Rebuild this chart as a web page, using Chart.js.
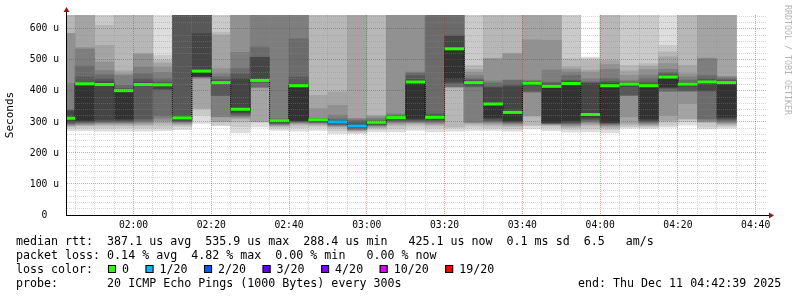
<!DOCTYPE html>
<html>
<head>
<meta charset="utf-8">
<script src="https://cdn.jsdelivr.net/npm/chart.js@4.4.0/dist/chart.umd.min.js"></script>
<style>
  html, body { margin: 0; padding: 0; background: #fff; }
  canvas { display: block; }
</style>
</head>
<body>
<canvas id="smoke" width="797" height="297"></canvas>
<script>
// start of each 5 minute column
const slots = ['01:40','01:45','01:50','01:55','02:00','02:05','02:10','02:15','02:20','02:25',
  '02:30','02:35','02:40','02:45','02:50','02:55','03:00','03:05','03:10','03:15',
  '03:20','03:25','03:30','03:35','03:40','03:45','03:50','03:55','04:00','04:05',
  '04:10','04:15','04:20','04:25','04:30'];

// median rtt per column (us)
const median = [312,423,421,401,421,420,313,464,427,341,434,304,417,307,300,287,299,314,429,315,
  536,427,358,331,425,415,424,324,417,422,417,445,422,429,427];

// lost pings out of 20 per column
const loss = [0,0,0,0,0,0,0,0,0,0,0,0,0,0,1,1,0,0,0,0,0,0,0,0,0,0,0,0,0,0,0,0,0,0,0];

// the 20 sorted ping times of each column (us), for the smoke
const pings = [
  [272,280,285,288,290,292,295,298,303,308,312,335,338,340,425,585,586,700,720,740],
  [272,280,288,290,292,295,298,300,303,306,423,425,445,480,535,540,700,720,740,760],
  [270,280,288,292,295,298,300,303,308,419,421,430,440,452,466,493,547,612,700,720],
  [270,282,288,292,295,298,300,303,306,310,401,403,408,418,450,455,465,700,720,740],
  [270,280,288,292,296,300,305,310,418,420,421,428,440,455,477,518,522,700,720,740],
  [272,280,290,298,305,312,320,405,407,419,420,422,428,440,460,477,490,499,515,700],
  [275,285,290,293,296,299,301,303,306,309,313,316,700,710,720,730,740,750,760,770],
  [295,322,342,344,440,443,445,446,447,448,464,585,700,710,720,730,740,750,760,770],
  [288,290,300,301,316,317,385,386,424,425,427,432,437,445,455,472,580,588,700,720],
  [265,285,300,310,315,318,320,325,330,335,341,440,455,472,525,700,710,720,730,740],
  [284,299,300,301,410,412,413,428,430,432,434,508,509,542,700,710,720,730,740,750],
  [273,280,285,288,290,292,294,296,298,300,304,306,308,310,700,710,720,730,740,750],
  [270,282,290,293,296,298,300,302,304,305,417,420,445,568,700,710,720,730,740,750],
  [273,283,288,292,295,297,299,300,302,304,307,309,310,311,312,343,386,700,720,740],
  [262,272,280,285,287,289,291,293,295,297,300,303,305,310,322,354,397,700,720,740],
  [262,266,270,272,274,276,278,280,282,284,287,292,298,305,310,312,700,710,720,730],
  [268,275,280,283,286,288,290,292,294,296,299,301,303,306,312,318,321,700,720,740],
  [268,278,287,292,296,299,302,305,308,310,314,316,318,322,326,700,710,720,730,740],
  [273,283,290,295,298,300,302,305,308,312,429,435,450,458,461,700,710,720,730,740],
  [268,280,287,291,295,298,302,305,308,311,315,320,326,700,710,720,730,740,750,760],
  [270,280,284,410,412,414,415,425,429,440,536,576,580,700,710,720,730,740,750,760],
  [273,283,290,295,298,300,413,415,420,425,427,430,435,440,450,461,470,483,700,720],
  [273,280,287,292,296,299,302,305,310,315,358,410,413,425,432,504,505,700,720,740],
  [270,278,285,289,292,295,298,300,302,305,331,413,420,434,436,520,522,700,720,740],
  [278,288,290,318,320,395,398,400,420,423,425,428,430,432,435,565,700,710,720,730],
  [272,282,288,291,293,294,295,296,298,300,415,420,425,429,467,563,700,710,720,730],
  [267,276,282,286,289,292,295,297,300,305,424,430,434,450,461,470,477,504,700,720],
  [268,278,287,292,296,300,303,308,312,318,324,424,426,430,440,461,467,500,505,509],
  [265,275,280,284,288,291,294,296,298,300,417,425,430,441,470,485,498,700,720,740],
  [280,285,290,295,316,385,386,387,415,418,421,424,427,430,435,451,465,483,700,720],
  [279,283,287,290,293,296,299,302,305,310,417,420,428,440,451,470,480,488,700,720],
  [283,290,300,305,321,398,400,408,411,413,445,450,455,460,470,488,510,526,547,700],
  [290,300,308,311,359,398,400,402,415,418,422,425,428,435,445,456,483,700,720,740],
  [278,284,298,300,302,306,311,400,402,424,429,432,440,450,504,506,700,710,720,730],
  [280,286,290,294,297,300,304,308,312,316,427,430,435,440,445,447,700,710,720,730]
];

const yTicks = [0, 100, 200, 300, 400, 500, 600];
const xLabels = ['02:00', '02:20', '02:40', '03:00', '03:20', '03:40', '04:00', '04:20', '04:40'];

const lossSteps = [0, 1, 2, 3, 4, 10, 19];
const lossNames = ['0', '1/20', '2/20', '3/20', '4/20', '10/20', '19/20'];
const lossColors = ['#26ff00', '#00b8ff', '#0059ff', '#5e00ff', '#7e00ff', '#dd00ff', '#ff0000'];

const legendLines = [
  'median rtt:  387.1 us avg  535.9 us max  288.4 us min   425.1 us now  0.1 ms sd  6.5   am/s',
  'packet loss: 0.14 % avg  4.82 % max  0.00 % min   0.00 % now',
  'loss color:',
  'probe:       20 ICMP Echo Pings (1000 Bytes) every 300s'
];
const endText = 'end: Thu Dec 11 04:42:39 2025';

const MONO = '"DejaVu Sans Mono", monospace';
const toMin = s => { const p = s.split(':'); return p[0] * 60 + +p[1]; };
const fmt = v => String(Math.floor(v / 60)).padStart(2, '0') + ':' + String(Math.round(v % 60)).padStart(2, '0');
const xStart = toMin('01:42') + 39 / 60;
const xEnd = toMin('04:42') + 39 / 60;
const STEP = 5;

function lossColor(n) {
  let c = lossColors[0];
  lossSteps.forEach((s, i) => { if (n >= s) c = lossColors[i]; });
  return c;
}

// smoke: band k spans ping k .. ping 21-k, darker towards the middle
const half = 10;
const datasets = [];
for (let k = 1; k <= half; k++) {
  const g = Math.floor(190 / half * (half - k)) + 50;
  datasets.push({
    type: 'bar',
    data: slots.map((s, j) => ({ x: toMin(s) + STEP / 2, y: [pings[j][k - 1], pings[j][20 - k]] })),
    backgroundColor: `rgb(${g},${g},${g})`,
    borderWidth: 0,
    grouped: false,
    barPercentage: 1,
    categoryPercentage: 1,
    clip: 0,
    order: 100 - k
  });
}

// thin dotted step line joining the medians
const edges = slots.map(toMin).concat(toMin(slots[slots.length - 1]) + STEP);
datasets.push({
  type: 'line',
  data: edges.map((x, j) => ({ x, y: median[Math.min(j, median.length - 1)] })),
  stepped: true,
  borderColor: '#000',
  borderWidth: 1,
  borderDash: [1, 1],
  pointRadius: 0,
  clip: 0,
  order: 2
});

// median bars coloured by loss
const segPts = [];
slots.forEach((s, j) => {
  const x0 = toMin(s);
  segPts.push({ x: x0, y: median[j] }, { x: x0 + STEP, y: median[j] }, { x: x0 + STEP, y: null });
});
datasets.push({
  type: 'line',
  data: segPts,
  borderWidth: 3,
  borderCapStyle: 'butt',
  borderColor: lossColors[0],
  segment: { borderColor: c => lossColor(loss[Math.floor(c.p0DataIndex / 3)]) },
  spanGaps: false,
  pointRadius: 0,
  clip: 0,
  order: 1
});

const decor = {
  id: 'decor',
  afterDraw(chart) {
    const ctx = chart.ctx;
    const a = chart.chartArea;
    ctx.save();
    // axis extensions + arrows
    ctx.strokeStyle = '#000';
    ctx.lineWidth = 1;
    ctx.beginPath();
    ctx.moveTo(a.left + 0.5, a.top);
    ctx.lineTo(a.left + 0.5, a.top - 4);
    ctx.moveTo(a.right, a.bottom + 0.5);
    ctx.lineTo(a.right + 4, a.bottom + 0.5);
    ctx.stroke();
    ctx.fillStyle = '#8b1c1c';
    ctx.beginPath();
    ctx.moveTo(a.left - 2.5, a.top - 3);
    ctx.lineTo(a.left + 3.5, a.top - 3);
    ctx.lineTo(a.left + 0.5, a.top - 8);
    ctx.closePath();
    ctx.fill();
    ctx.beginPath();
    ctx.moveTo(a.right + 3, a.bottom - 2.5);
    ctx.lineTo(a.right + 3, a.bottom + 3.5);
    ctx.lineTo(a.right + 8, a.bottom + 0.5);
    ctx.closePath();
    ctx.fill();

    // watermark
    ctx.save();
    ctx.translate(787.5, 5);
    ctx.rotate(Math.PI / 2);
    ctx.font = '8.3px ' + MONO;
    ctx.fillStyle = '#b4b4b4';
    ctx.textBaseline = 'middle';
    ctx.textAlign = 'left';
    ctx.fillText('RRDTOOL / TOBI OETIKER', 0, 0);
    ctx.restore();

    // legend
    ctx.font = '11.65px ' + MONO;
    ctx.fillStyle = '#000';
    ctx.textBaseline = 'alphabetic';
    ctx.textAlign = 'left';
    const base = [245, 259, 273, 287];
    legendLines.forEach((t, i) => ctx.fillText(t, 16, base[i]));
    ctx.fillText(endText, 578, base[3]);
    let x = 108;
    lossNames.forEach((name, i) => {
      ctx.fillStyle = lossColors[i];
      ctx.fillRect(x, 265, 8, 8);
      ctx.strokeStyle = '#000';
      ctx.strokeRect(x + 0.5, 265.5, 7, 7);
      ctx.fillStyle = '#000';
      ctx.fillText(name, x + 14, base[2]);
      x += 14 + ctx.measureText(name).width + 16.5;
    });
    ctx.restore();
  }
};

const gridMinor = 'rgba(140,140,140,0.35)';
const gridMajor = 'rgba(200,40,40,0.45)';

new Chart(document.getElementById('smoke'), {
  type: 'bar',
  data: { datasets },
  plugins: [decor],
  options: {
    responsive: false,
    animation: false,
    events: [],
    layout: { padding: { top: 15, right: 31, left: 0, bottom: 0 } },
    plugins: { legend: { display: false }, tooltip: { enabled: false } },
    scales: {
      x: {
        type: 'linear',
        min: xStart,
        max: xEnd,
        offset: false,
        afterBuildTicks: s => {
          const t = [];
          for (let v = Math.ceil(xStart / STEP) * STEP; v <= xEnd; v += STEP) t.push({ value: v });
          s.ticks = t;
        },
        afterFit: s => { s.height = 82; },
        ticks: {
          autoSkip: false,
          maxRotation: 0,
          minRotation: 0,
          padding: 5,
          color: '#000',
          font: { family: MONO, size: 9.7 },
          callback: v => (xLabels.includes(fmt(v)) ? fmt(v) : '')
        },
        grid: {
          z: 1,
          offset: false,
          drawTicks: false,
          lineWidth: 1,
          color: c => (xLabels.includes(fmt(c.tick.value)) ? gridMajor : gridMinor)
        },
        border: { display: true, color: '#000', width: 1, dash: [1, 1], z: 2 }
      },
      y: {
        min: 0,
        max: 645,
        afterBuildTicks: s => {
          const t = [];
          for (let v = 0; v < 645; v += 20) t.push({ value: v });
          s.ticks = t;
        },
        afterFit: s => { s.width = 66; },
        ticks: {
          autoSkip: false,
          padding: 7,
          color: '#000',
          font: { family: MONO, size: 9.7 },
          callback: v => (yTicks.includes(v) ? (v === 0 ? '0  ' : v + ' u') : '')
        },
        grid: {
          z: 1,
          drawTicks: false,
          lineWidth: 1,
          color: c => (yTicks.includes(c.tick.value) ? gridMajor : gridMinor)
        },
        border: { display: true, color: '#000', width: 1, dash: [1, 1], z: 2 },
        title: {
          display: true,
          text: 'Seconds',
          color: '#000',
          font: { family: MONO, size: 11 },
          padding: { top: 4, bottom: 4 }
        }
      }
    }
  }
});
</script>
</body>
</html>
